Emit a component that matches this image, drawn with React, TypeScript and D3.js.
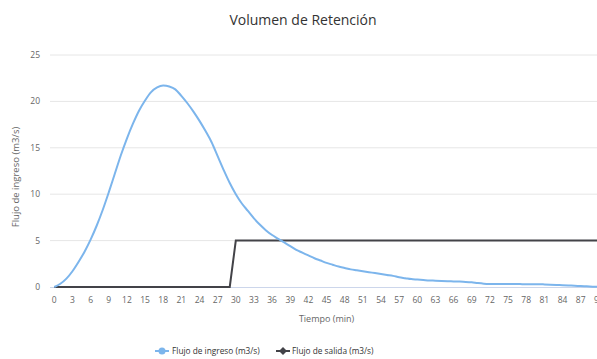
import React from "react";
import * as d3 from "d3";

const minutes: number[] = Array.from({ length: 91 }, (_, i) => i);
const inflow: number[] = [
  0, 0.35, 0.9, 1.7, 2.7, 3.8, 5.1, 6.6, 8.3, 10.2,
  12.2, 14.2, 16.0, 17.6, 19.0, 20.1, 21.0, 21.5, 21.7, 21.6,
  21.3, 20.6, 19.8, 18.9, 17.9, 16.8, 15.6, 14.1, 12.6, 11.2,
  10.0, 9.0, 8.2, 7.4, 6.7, 6.1, 5.6, 5.2, 4.8, 4.4,
  4.0, 3.7, 3.4, 3.1, 2.85, 2.6, 2.4, 2.2, 2.05, 1.9,
  1.8, 1.7, 1.6, 1.5, 1.4, 1.3, 1.2, 1.05, 0.95, 0.85,
  0.8, 0.75, 0.7, 0.68, 0.65, 0.62, 0.6, 0.58, 0.55, 0.5,
  0.42, 0.36, 0.33, 0.32, 0.32, 0.32, 0.32, 0.31, 0.3, 0.3,
  0.3, 0.28, 0.25, 0.22, 0.2, 0.17, 0.14, 0.1, 0.07, 0.04, 0.02,
];
const outflow: number[] = minutes.map((m) => (m < 30 ? 0 : 5));
const yTicks: number[] = [0, 5, 10, 15, 20, 25];
const xTickStep = 3;
const seriesNames: string[] = ["Flujo de ingreso (m3/s)", "Flujo de salida (m3/s)"];
const colors: string[] = ["#7cb5ec", "#434348"];

const W = 597;
const H = 359;
const left = 54.3;
const right = 598.8;
const top = 55;
const bottom = 287;
const font = "'Open Sans', 'Liberation Sans', sans-serif";

export default function App() {
  const x = d3.scaleLinear().domain([0, 90]).range([left, right]);
  const y = d3.scaleLinear().domain([0, 25]).range([bottom, top]);
  const inPath =
    d3
      .line<number>()
      .x((_, i) => x(minutes[i]))
      .y((d) => y(d))
      .curve(d3.curveMonotoneX)(inflow) || "";
  const outPath =
    d3
      .line<number>()
      .x((_, i) => x(minutes[i]))
      .y((d) => y(d))(outflow) || "";
  const xTicks = minutes.filter((m) => m % xTickStep === 0);

  return (
    <svg
      width={W}
      height={H}
      style={{ position: "absolute", left: 0, top: 0, background: "#fff" }}
      fontFamily={font}
    >
      <rect width={W} height={H} fill="#fff" />
      <text x={303} y={25} textAnchor="middle" fontSize={14} fill="#333">
        Volumen de Retención
      </text>
      {yTicks.map((t) => (
        <g key={t}>
          {t > 0 && (
            <line x1={50} x2={W} y1={y(t)} y2={y(t)} stroke="#e6e6e6" strokeWidth={1} />
          )}
          <text x={40} y={y(t) + 3} textAnchor="end" fontSize={8.5} fill="#666">
            {t}
          </text>
        </g>
      ))}
      <line x1={50} x2={W} y1={bottom + 0.5} y2={bottom + 0.5} stroke="#ccd6eb" strokeWidth={1} />
      {xTicks.map((t) => (
        <text key={t} x={x(t)} y={303} textAnchor="middle" fontSize={8.5} fill="#666">
          {t}
        </text>
      ))}
      <text x={(left + right) / 2} y={322} textAnchor="middle" fontSize={9} fill="#666">
        Tiempo (min)
      </text>
      <text
        transform={`translate(19,${(top + bottom) / 2 + 6}) rotate(-90)`}
        textAnchor="middle"
        fontSize={9.5}
        fill="#666"
      >
        Flujo de ingreso (m3/s)
      </text>
      <path d={outPath} fill="none" stroke={colors[1]} strokeWidth={2} />
      <path d={inPath} fill="none" stroke={colors[0]} strokeWidth={2} />
      <g>
        <line x1={155} x2={169} y1={351} y2={351} stroke={colors[0]} strokeWidth={2} />
        <circle cx={162} cy={351} r={3.5} fill={colors[0]} />
        <text x={172} y={354} fontSize={8.3} fill="#333">
          {seriesNames[0]}
        </text>
        <line x1={276} x2={290} y1={351} y2={351} stroke={colors[1]} strokeWidth={2} />
        <path d="M283,347 L287,351 L283,355 L279,351 Z" fill={colors[1]} />
        <text x={292} y={354} fontSize={8.3} fill="#333">
          {seriesNames[1]}
        </text>
      </g>
    </svg>
  );
}
